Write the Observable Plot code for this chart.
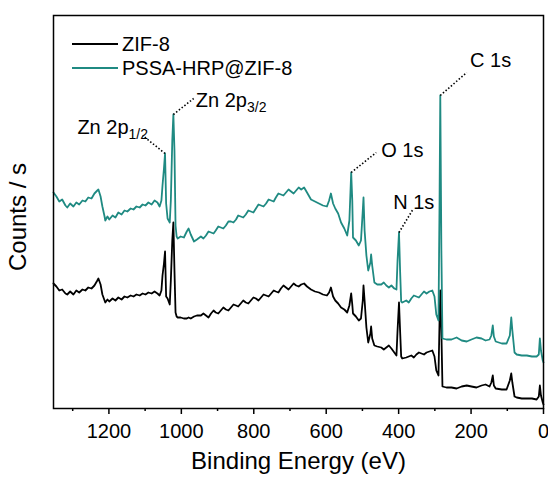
<!DOCTYPE html>
<html><head><meta charset="utf-8">
<script src="https://cdn.jsdelivr.net/npm/d3@7"></script>
<script src="https://cdn.jsdelivr.net/npm/@observablehq/plot@0.6"></script>
<style>
body{margin:0;background:#fff;}
#wrap{position:relative;width:548px;height:485px;font-family:"Liberation Sans",Arial,sans-serif;}
.leg{position:absolute;left:72px;font-size:20px;line-height:22px;height:22px;display:flex;align-items:center;color:#000;}
.leg .sw{display:inline-block;width:46px;height:0;border-top:2px solid;margin-right:4px;}
</style></head><body><div id="wrap"></div>
<script>
// Binding energy grid (eV), shared by both spectra
const energy = [1353,1345,1337,1329,1320,1315,1307,1298,1290,1282,1273,1265,1257,1248,1240,1232,1229,1223,1218,1212,1210,1204,1199,1190,1182,1174,1165,1157,1149,1140,1132,1124,1115,1107,1099,1091,1082,1074,1066,1060,1055,1052,1048,1045,1042,1038,1032,1029,1025,1022,1019,1016,1013,1010,1002,993,985,980,974,965,957,946,939,932,925,918,911,905,898,891,884,877,870,863,856,849,843,836,829,822,815,808,801,794,787,780,773,766,759,752,745,739,732,725,718,711,704,697,690,683,676,669,661,653,642,631,620,609,598,592,587,581,575,567,559,550,542,536,531,528,526,518,510,504,499,497,494,489,484,478,476,473,467,459,448,441,434,427,420,412,406,403,399,396,393,390,379,372,365,358,351,344,337,330,323,315,307,301,296,290,287,285,282,279,268,254,240,226,212,199,185,171,160,149,144,140,137,132,115,102,93,89,86,80,74,60,46,32,19,13,10,7,2,0];
// Counts (a.u.) – PSSA-HRP@ZIF-8 (offset spectrum)
const pssa = [216,212,207,209,203,201,205,202,206,204,208,207,211,210,215,218,219,212,202,192,188,192,189,193,191,196,194,198,197,200,199,202,201,204,203,206,204,208,206,202,208,223,240,255,205,190,186,208,268,294,258,183,172,170,172,171,177,180,174,167,169,172,170,173,177,176,175,178,182,181,180,183,187,187,186,189,193,192,191,194,198,197,196,200,204,203,202,205,209,208,207,211,215,214,213,216,219,217,215,218,221,219,221,216,209,207,205,203,202,208,215,205,200,195,186,180,173,188,236,208,171,168,163,168,198,211,178,153,138,146,154,143,126,124,124,126,123,121,123,120,119,148,176,138,107,106,108,106,110,113,112,111,114,117,115,117,118,112,94,88,208,313,158,70,69,69,71,68,67,69,71,70,68,69,73,83,72,67,65,65,73,91,78,56,54,53,53,52,52,54,70,58,48,46];
// Counts (a.u.) – ZIF-8
const zif8 = [125,122,118,119,115,114,117,114,118,116,119,118,121,120,123,128,130,124,114,108,106,109,107,110,108,111,109,112,111,113,112,114,113,115,114,116,115,117,115,113,118,133,145,157,112,110,104,128,168,186,138,96,92,91,91,90,90,91,90,92,93,93,95,93,91,95,98,96,95,98,101,99,98,101,104,103,102,105,108,106,105,108,111,110,108,111,114,113,112,115,118,117,116,120,123,121,119,122,125,123,122,124,125,122,119,117,116,114,113,116,121,112,108,105,101,99,96,103,115,104,95,92,88,90,108,123,108,81,66,75,82,70,63,62,61,59,61,63,60,56,53,78,106,78,52,50,51,52,53,51,54,56,55,54,56,57,58,52,38,33,88,118,78,22,21,21,20,22,23,22,21,23,24,22,26,33,23,20,19,19,28,35,26,12,11,10,10,10,9,12,23,13,6,4];

const seriesNames = ["ZIF-8", "PSSA-HRP@ZIF-8"];
const seriesColors = ["#000000", "#1f8a82"];

const majorTicks = [1200, 1000, 800, 600, 400, 200, 0];
const minorTicks = [1300, 1100, 900, 700, 500, 300, 100];

// Peak annotations
const peakMain = ["Zn 2p", "Zn 2p", "O 1s", "N 1s", "C 1s"];
const peakSub = ["1/2", "3/2", "", "", ""];
const peakEnergy = [1045, 1022, 531, 399, 285];
const peakCount = [255, 294, 236, 176, 313];
const leaderEnergy = [1107, 966, 462, 359, 212];
const leaderCount = [273, 310, 256, 200, 336];
const labelEnergy = [1092, 960, 448, 415, 146];
const labelCount = [281, 308, 258, 206, 348];
const labelAnchor = ["end", "start", "start", "start", "middle"];

const lineRows = (vals, s) => energy.map((e, i) => ({e, c: vals[i], s}));
const peaks = peakMain.map((m, i) => ({m, sub: peakSub[i], pe: peakEnergy[i], pc: peakCount[i], le: leaderEnergy[i], lc: leaderCount[i], te: labelEnergy[i], tc: labelCount[i], a: labelAnchor[i]}));

const font = "Liberation Sans, Arial, sans-serif";
const plot = Plot.plot({
  width: 548, height: 485,
  marginLeft: 53, marginRight: 5, marginTop: 15, marginBottom: 77,
  style: {fontFamily: font, fontSize: "20px", background: "#fff", color: "#000", overflow: "visible"},
  x: {domain: [1353, 0]},
  y: {domain: [0, 393]},
  marks: [
    Plot.axisX({ticks: majorTicks, tickSize: 6, tickPadding: 9, fontSize: 20, label: null, strokeWidth: 1.5, tickFormat: d => String(d)}),
    Plot.axisX({ticks: minorTicks, tickSize: 3, tickFormat: () => "", label: null, strokeWidth: 1.5}),
    Plot.axisY({ticks: [], label: null}),
    Plot.text(["Binding Energy (eV)"], {frameAnchor: "bottom", dy: 60, fontSize: 24, textAnchor: "middle"}),
    Plot.text(["Counts / s"], {frameAnchor: "left", dx: -35, dy: 5, rotate: -90, fontSize: 24, textAnchor: "middle"}),
    Plot.line(lineRows(zif8, seriesNames[0]), {x: "e", y: "c", stroke: seriesColors[0], strokeWidth: 1.8}),
    Plot.line(lineRows(pssa, seriesNames[1]), {x: "e", y: "c", stroke: seriesColors[1], strokeWidth: 1.8}),
    Plot.link(peaks, {x1: "pe", y1: "pc", x2: "le", y2: "lc", stroke: "#000", strokeWidth: 1.6, strokeDasharray: "1.5,2"}),
    Plot.text(peaks, {x: "te", y: "tc", text: "m", textAnchor: "end", fontSize: 20, filter: d => d.a === "end"}),
    Plot.text(peaks, {x: "te", y: "tc", text: "m", textAnchor: "start", fontSize: 20, filter: d => d.a === "start"}),
    Plot.text(peaks, {x: "te", y: "tc", text: "m", textAnchor: "middle", fontSize: 20, filter: d => d.a === "middle"}),
    Plot.frame({stroke: "#000", strokeWidth: 1.5})
  ]
});

// subscripts for the Zn 2p labels
Array.from(plot.querySelectorAll("text")).filter(t => t.textContent === "Zn 2p").forEach(t => {
  const anchor = t.closest("g").getAttribute("text-anchor");
  const sub = anchor === "end" ? peakSub[0] : peakSub[1];
  const ts = document.createElementNS("http://www.w3.org/2000/svg", "tspan");
  ts.setAttribute("dy", "0.35em");
  ts.setAttribute("font-size", "14");
  ts.textContent = sub;
  t.appendChild(ts);
});

const wrap = document.getElementById("wrap");
wrap.appendChild(plot);
seriesNames.forEach((n, i) => {
  const d = document.createElement("div");
  d.className = "leg";
  d.style.top = (i === 0 ? 33 : 57) + "px";
  const sw = document.createElement("span");
  sw.className = "sw";
  sw.style.borderTopColor = seriesColors[i];
  d.appendChild(sw);
  d.appendChild(document.createTextNode(n));
  wrap.appendChild(d);
});
</script>
</body></html>
